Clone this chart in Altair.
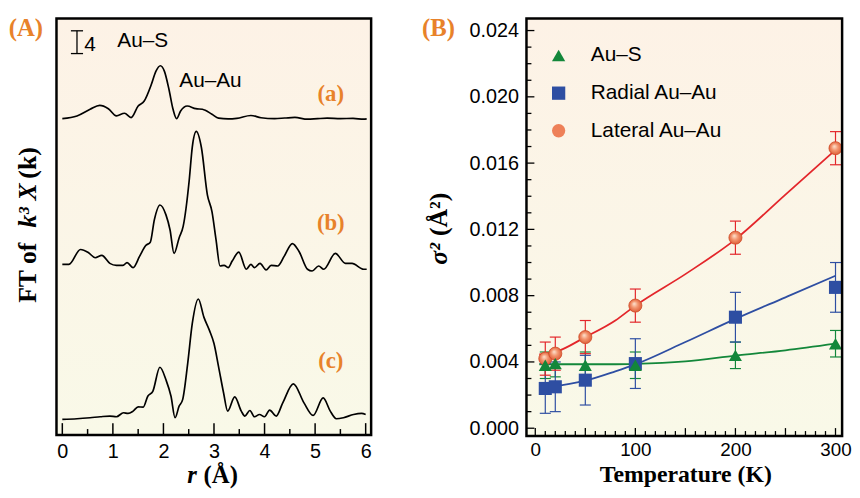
import altair as alt
import pandas as pd

# ---------------- Panel A: FT magnitude of k^3 chi(k)  (units of the "4" scale bar) ----------------
r_a = [0.0, 0.29, 0.55, 0.74, 0.91, 1.07, 1.23, 1.36, 1.5, 1.62, 1.76, 1.85, 1.94, 2.02, 2.11, 2.19,
       2.26, 2.34, 2.47, 2.64, 2.77, 2.96, 3.09, 3.28, 3.45, 3.73, 3.93, 4.2, 4.4, 4.6, 4.85, 5.05,
       5.24, 5.5, 5.75, 5.96, 6.02]
ft_a = [0.05, 0.52, 1.69, 2.38, 1.79, 0.52, 0.99, 0.23, 2.26, 3.13, 6.03, 8.35, 9.34, 8.35, 5.16, 1.68,
        0.05, 1.39, 2.26, 1.79, 1.69, 0.82, 0.12, 0.0, 0.1, 0.6, 0.2, 0.05, 0.15, 0.25, -0.05, 0.05,
        0.12, 0.05, 0.08, -0.05, 0.0]

r_b = [0.0, 0.13, 0.36, 0.52, 0.65, 0.78, 0.94, 1.07, 1.2, 1.28, 1.4, 1.53, 1.65, 1.74, 1.82, 1.93,
       2.05, 2.13, 2.21, 2.31, 2.39, 2.51, 2.57, 2.65, 2.75, 2.87, 2.96, 3.04, 3.12, 3.2, 3.28, 3.36,
       3.49, 3.64, 3.73, 3.8, 3.91, 4.03, 4.13, 4.26, 4.39, 4.55, 4.68, 4.85, 4.94, 5.07, 5.17, 5.4,
       5.6, 5.73, 5.96, 6.02]
ft_b = [1.22, 1.22, 3.83, 3.25, 2.38, 2.78, 1.39, 1.04, 1.04, 1.51, 0.64, 2.66, 4.52, 5.10, 9.04, 11.65,
        9.91, 7.30, 3.13, 5.86, 7.88, 16.0, 21.79, 24.57, 21.79, 13.39, 10.49, 5.57, 0.92, 1.04, 0.64, 1.79,
        3.36, 0.35, 1.22, 0.64, 1.39, 0.23, 1.04, 0.92, 2.66, 4.87, 3.53, 0.35, 0.05, 0.92, 0.35, 3.13,
        1.39, 1.39, 0.35, 0.35]

r_c = [0.0, 0.29, 0.55, 0.75, 0.94, 1.07, 1.21, 1.3, 1.4, 1.5, 1.6, 1.69, 1.79, 1.93, 2.05, 2.15,
       2.23, 2.31, 2.38, 2.48, 2.57, 2.69, 2.8, 2.91, 3.0, 3.09, 3.19, 3.27, 3.41, 3.54, 3.61, 3.71,
       3.8, 3.9, 4.0, 4.1, 4.23, 4.36, 4.57, 4.78, 4.96, 5.16, 5.3, 5.42, 5.56, 5.76, 5.92, 6.0]
ft_c = [0.05, 0.17, 0.35, 0.52, 0.64, 0.52, 1.22, 1.10, 1.51, 2.26, 2.21, 4.12, 4.99, 9.22, 7.01, 4.12,
        0.35, 2.38, 3.53, 9.91, 16.87, 21.22, 18.03, 15.70, 13.39, 9.34, 4.70, 1.51, 4.0, 1.51, 0.64, 1.62,
        0.52, 0.92, 0.52, 1.69, 0.64, 2.96, 6.31, 2.96, 0.75, 3.83, 1.51, 0.17, 0.35, 0.92, 1.10, 0.92]

spectrum_names = ["a", "b", "c"]
spectrum_offsets = [55.65, 28.87, 2.78]

r_ticks_major = [0, 1, 2, 3, 4, 5, 6]
r_ticks_minor = [0.5, 1.5, 2.5, 3.5, 4.5, 5.5]

scalebar_r = [0.29]
scalebar_lo = [67.13]
scalebar_hi = [71.13]
scalebar_half = 0.12

ann_text = ["4", "Au–S", "Au–Au"]
ann_r = [0.55, 1.59, 2.93]
ann_y = [68.7, 69.4, 62.3]

tag_text = ["(a)", "(b)", "(c)"]
tag_r = [5.31, 5.31, 5.31]
tag_y = [60.0, 37.4, 13.0]

# ---------------- Panel B: Debye-Waller factors ----------------
series = ["Au–S", "Radial Au–Au", "Lateral Au–Au"]
temps = [10, 20, 50, 100, 200, 300]
sig_aus = [0.0038, 0.0039, 0.0038, 0.0038, 0.0044, 0.0051]
err_aus = [0.0008, 0.0008, 0.0008, 0.0008, 0.0008, 0.0008]
sig_rad = [0.0024, 0.0025, 0.0029, 0.0039, 0.0067, 0.0085]
err_rad = [0.0015, 0.0015, 0.0015, 0.0015, 0.0015, 0.0015]
sig_lat = [0.0042, 0.0045, 0.0055, 0.0074, 0.0115, 0.0169]
err_lat = [0.0010, 0.0010, 0.0010, 0.0010, 0.0010, 0.0010]

fit_T = [4, 20, 50, 80, 100, 150, 200, 250, 300]
fit_aus = [0.00386, 0.00386, 0.00386, 0.00386, 0.00388, 0.00403, 0.00438, 0.0047, 0.0051]
fit_rad = [0.0025, 0.00255, 0.00287, 0.00343, 0.00385, 0.0052, 0.0066, 0.0079, 0.0092]
fit_lat = [0.00445, 0.0046, 0.0055, 0.0065, 0.0074, 0.0093, 0.0114, 0.0141, 0.0168]

T_ticks_major = [0, 50, 100, 150, 200, 250, 300]
T_ticks_minor = [t for t in range(0, 310, 10) if t % 50]
T_labels = [0, 100, 200, 300]
s_ticks_major = [0.0, 0.004, 0.008, 0.012, 0.016, 0.020, 0.024]
s_ticks_minor = [i / 1000 for i in range(0, 25) if i % 4]
cap_half = 5.5

# ---------------- styles ----------------
WA, HA = 318, 421
WB, HB = 319, 422
SANS = "Liberation Sans"
SERIF = "Liberation Serif"
ORANGE = "#e8822a"
GREEN, BLUE, RED = "#13873a", "#2e4ea2", "#e3262b"
LAT_FILL = "#ee8058"
series_line = [GREEN, BLUE, RED]

bg_grad = alt.LinearGradient(
    gradient="linear",
    stops=[alt.GradientStop(color="#fdf2e6", offset=0), alt.GradientStop(color="#f9f9e8", offset=1)],
    x1=0, y1=0, x2=0, y2=1)
ball = alt.RadialGradient(
    gradient="radial",
    stops=[alt.GradientStop(color="#fde6d4", offset=0), alt.GradientStop(color="#f39872", offset=0.45),
           alt.GradientStop(color="#db5530", offset=1)],
    x1=0.4, y1=0.35, r1=0, x2=0.5, y2=0.5, r2=0.55)

one = pd.DataFrame({"k": [0]})


def box(w, h, **kw):
    return alt.Chart(one).mark_rect(**kw).encode(
        x=alt.value(0), x2=alt.value(w), y=alt.value(0), y2=alt.value(h))


def label(text, x, y, size, **kw):
    return alt.Chart(one).mark_text(text=text, fontSize=size, **kw).encode(
        x=alt.value(x), y=alt.value(y))


# ---------------- Panel A ----------------
rows = []
for name, rr, vv, off in zip(spectrum_names, [r_a, r_b, r_c], [ft_a, ft_b, ft_c], spectrum_offsets):
    for x, v in zip(rr, vv):
        rows.append({"r": x, "v": v + off, "s": name})
dfA = pd.DataFrame(rows)

xA = alt.Scale(domain=[-0.1155, 6.108], nice=False, zero=False)
yA = alt.Scale(domain=[0.09, 73.3], nice=False, zero=False)
axXA = alt.Axis(values=r_ticks_major, format="d", ticks=False, domain=False, grid=False,
                labelFont=SANS, labelFontSize=20, labelColor="black", labelPadding=7, title=None)
axYA = alt.Axis(labels=False, ticks=False, domain=False, grid=False, title=None)


def XA(f):
    return alt.X(f, type="quantitative", scale=xA, axis=axXA)


def YA(f):
    return alt.Y(f, type="quantitative", scale=yA, axis=axYA)


linesA = alt.Chart(dfA).mark_line(color="black", strokeWidth=1.7, interpolate="monotone").encode(
    x=XA("r"), y=YA("v"), detail="s:N")

ticksA = [
    alt.Chart(pd.DataFrame({"t": vals})).mark_rule(color="black", strokeWidth=1.5).encode(
        x=XA("t"), y=alt.value(HA), y2=alt.value(HA - ln))
    for vals, ln in [(r_ticks_major, 12), (r_ticks_minor, 6)]
]

sb = pd.DataFrame({"r": scalebar_r, "lo": scalebar_lo, "hi": scalebar_hi})
sb["rl"] = sb["r"] - scalebar_half
sb["rr"] = sb["r"] + scalebar_half
sbar = alt.Chart(sb).mark_rule(color="black", strokeWidth=1.3).encode(
    x=XA("r"), y=YA("lo"), y2="hi:Q")
sbcaps = [
    alt.Chart(sb).mark_rule(color="black", strokeWidth=1.3).encode(
        x=XA("rl"), x2="rr:Q", y=YA(c))
    for c in ["lo", "hi"]
]

annA = alt.Chart(pd.DataFrame({"t": ann_text, "r": ann_r, "y": ann_y})).mark_text(
    font=SANS, fontSize=21, color="black").encode(x=XA("r"), y=YA("y"), text="t:N")
tagsA = alt.Chart(pd.DataFrame({"t": tag_text, "r": tag_r, "y": tag_y})).mark_text(
    font=SERIF, fontSize=23, fontWeight="bold", color=ORANGE).encode(x=XA("r"), y=YA("y"), text="t:N")

titlesA = [
    label("(A)", -31, 10, 25, font=SERIF, fontWeight="bold", color=ORANGE),
    label("FT of", -29, 257, 26, font=SERIF, fontWeight="bold", angle=270),
    label("k³ X", -29, 189, 26, font=SERIF, fontWeight="bold", fontStyle="italic", angle=270),
    label("(k)", -29, 146, 26, font=SERIF, fontWeight="bold", angle=270),
    label("r", 137, 461, 25, font=SERIF, fontWeight="bold", fontStyle="italic"),
    label("(Å)", 166, 461, 25, font=SERIF, fontWeight="bold"),
]

panelA = alt.layer(
    box(WA, HA, fill=bg_grad), linesA, *ticksA, sbar, *sbcaps, annA, tagsA, *titlesA,
    box(WA, HA, fillOpacity=0, stroke="black", strokeWidth=2.5),
).properties(width=WA, height=HA)

# ---------------- Panel B ----------------
pts = pd.DataFrame({
    "T": temps * 3,
    "sig": sig_aus + sig_rad + sig_lat,
    "err": err_aus + err_rad + err_lat,
    "series": [s for s in series for _ in temps],
})
pts["lo"] = pts["sig"] - pts["err"]
pts["hi"] = pts["sig"] + pts["err"]
pts["cl"] = pts["T"] - cap_half
pts["cr"] = pts["T"] + cap_half

fits = pd.DataFrame({
    "T": fit_T * 3,
    "sig": fit_aus + fit_rad + fit_lat,
    "series": [s for s in series for _ in fit_T],
})

xB = alt.Scale(domain=[-8.8, 306.6], nice=False, zero=False)
yB = alt.Scale(domain=[-0.00047, 0.02473], nice=False, zero=False)
axXB = alt.Axis(values=T_labels, ticks=False, domain=False, grid=False, labelFont=SANS, labelFontSize=19,
                labelColor="black", labelPadding=5, title=None)
axYB = alt.Axis(values=s_ticks_major, format=".3f", ticks=False, domain=False, grid=False, labelFont=SANS,
                labelFontSize=20, labelColor="black", labelPadding=8, title=None)


def XB(f):
    return alt.X(f, type="quantitative", scale=xB, axis=axXB)


def YB(f):
    return alt.Y(f, type="quantitative", scale=yB, axis=axYB)


fillScale = alt.Scale(domain=series, range=[GREEN, BLUE, LAT_FILL])
shapeScale = alt.Scale(domain=series, range=["triangle-up", "square", "circle"])

series_layers = []
for s, col in zip(series, series_line):
    f = fits[fits["series"] == s]
    p = pts[pts["series"] == s]
    series_layers.append(alt.Chart(f).mark_line(color=col, strokeWidth=1.8, interpolate="monotone").encode(
        x=XB("T"), y=YB("sig")))
    series_layers.append(alt.Chart(p).mark_rule(color=col, strokeWidth=1.2).encode(
        x=XB("T"), y=YB("lo"), y2="hi:Q"))
    for c in ["lo", "hi"]:
        series_layers.append(alt.Chart(p).mark_rule(color=col, strokeWidth=1.2).encode(
            x=XB("cl"), x2="cr:Q", y=YB(c)))

latPts = alt.Chart(pts[pts["series"] == series[2]]).mark_point(
    shape="circle", filled=True, size=175, opacity=1, fill=ball, stroke="#cf4a26", strokeWidth=0.8).encode(
    x=XB("T"), y=YB("sig"))

mainPts = pd.concat([pts[pts["series"] == series[1]], pts[pts["series"] == series[0]]])
leg = alt.Legend(orient="none", legendX=497, legendY=27, title=None, labelFont=SANS, labelFontSize=21,
                 labelColor="black", symbolSize=180, symbolStrokeWidth=0, symbolOpacity=1,
                 rowPadding=16, labelOffset=22, padding=0)
otherPts = alt.Chart(mainPts).mark_point(filled=True, size=175, opacity=1).encode(
    x=XB("T"), y=YB("sig"),
    fill=alt.Fill("series:N", scale=fillScale, legend=leg),
    shape=alt.Shape("series:N", scale=shapeScale, legend=leg))

ticksB = [
    alt.Chart(pd.DataFrame({"t": vals})).mark_rule(color="black", strokeWidth=1.3).encode(
        x=XB("t"), y=alt.value(HB), y2=alt.value(HB - ln))
    for vals, ln in [(T_ticks_major, 8), (T_ticks_minor, 5)]
] + [
    alt.Chart(pd.DataFrame({"t": vals})).mark_rule(color="black", strokeWidth=1.3).encode(
        y=YB("t"), x=alt.value(0), x2=alt.value(ln))
    for vals, ln in [(s_ticks_major, 8), (s_ticks_minor, 5)]
]

titlesB = [
    label("(B)", -89, 10, 25, font=SERIF, fontWeight="bold", color=ORANGE),
    label("σ²", -88, 238, 26, font=SERIF, fontWeight="bold", fontStyle="italic", angle=270),
    label("(Å²)", -88, 198, 26, font=SERIF, fontWeight="bold", angle=270),
    label("Temperature (K)", 161, 461.5, 24, font=SERIF, fontWeight="bold"),
]

panelB = alt.layer(
    box(WB, HB, fill=bg_grad), *ticksB, *series_layers, latPts, otherPts, *titlesB,
    box(WB, HB, fillOpacity=0, stroke="black", strokeWidth=2.5),
).properties(width=WB, height=HB)

chart = alt.hconcat(panelA, panelB, spacing=49).properties(
    padding={"left": 0, "top": 6, "right": 0, "bottom": 0}
).configure_view(strokeWidth=0)

chart.save("out.html", embed_options={"renderer": "svg", "actions": False})
